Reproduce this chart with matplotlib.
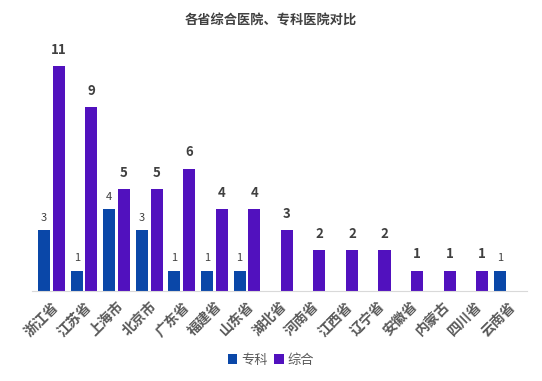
import matplotlib.pyplot as plt
import numpy as np

plt.rcParams['font.family'] = ['Noto Sans CJK SC', 'DejaVu Sans']

provinces = ["浙江省", "江苏省", "上海市", "北京市", "广东省", "福建省", "山东省", "湖北省",
             "河南省", "江西省", "辽宁省", "安徽省", "内蒙古", "四川省", "云南省"]
special = [3, 1, 4, 3, 1, 1, 1, 0, 0, 0, 0, 0, 0, 0, 1]
general = [11, 9, 5, 5, 6, 4, 4, 3, 2, 2, 2, 1, 1, 1, 0]

C_SPEC = "#0A47A8"
C_GEN = "#5111BE"
C_TEXT = "#404040"

fig = plt.figure(figsize=(5.42, 3.81), dpi=100)
ax = fig.add_axes([32 / 542, 90 / 381, 495 / 542, 245 / 381])

x = np.arange(len(provinces))
w = 0.37
gap = 0.08
b1 = ax.bar(x - (w + gap) / 2, special, width=w, color=C_SPEC, label="专科")
b2 = ax.bar(x + (w + gap) / 2, general, width=w, color=C_GEN, label="综合")

for xi, v in zip(x, special):
    if v:
        ax.text(xi - (w + gap) / 2, v + 0.35, str(v), ha="center", va="bottom",
                fontsize=8, color=C_TEXT)
for xi, v in zip(x, general):
    if v:
        ax.text(xi + (w + gap) / 2, v + 0.45, str(v), ha="center", va="bottom",
                fontsize=9.5, fontweight="bold", color=C_TEXT)

ax.set_xlim(-0.6, len(provinces) - 0.4)
ax.set_ylim(0, 12)
ax.set_yticks([])
ax.set_xticks(x)
ax.set_xticklabels(provinces, rotation=45, ha="right", rotation_mode="anchor",
                   fontsize=10, fontweight="bold", color="#595959")
ax.tick_params(axis="x", length=0, pad=6)
for s in ["top", "right", "left"]:
    ax.spines[s].set_visible(False)
ax.spines["bottom"].set_color("#D9D9D9")

fig.suptitle("各省综合医院、专科医院对比", y=0.965, fontsize=9.5, fontweight="bold",
             color=C_TEXT)
fig.legend(handles=[b1, b2], loc="center", bbox_to_anchor=(0.5, 0.055), ncol=2,
           frameon=False, fontsize=9.5, handlelength=0.7, handleheight=0.7,
           handletextpad=0.3, columnspacing=0.5, labelcolor="#595959")

fig.savefig("out.png", dpi=100)
